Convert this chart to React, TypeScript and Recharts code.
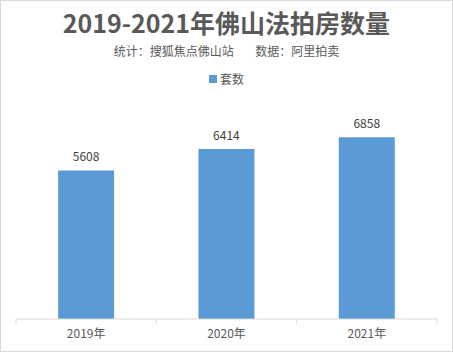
import { BarChart, Bar, XAxis, YAxis, Legend, LabelList } from "recharts";

const years = ["2019年", "2020年", "2021年"];
const counts = [5608, 6414, 6858];
const seriesName = "套数";

const data = years.map((year, i) => ({ year, count: counts[i] }));

const FONT = '"Noto Sans CJK SC", "Microsoft YaHei", sans-serif';
const GREY = "#595959";
const BLUE = "#5B9BD5";

type TickProps = {
  x?: number;
  y?: number;
  payload?: { value: string; offset?: number };
  index?: number;
  visibleTicksCount?: number;
};

function YearTick({ x = 0, y = 0, payload, index = 0, visibleTicksCount = 0 }: TickProps) {
  const half = payload?.offset ?? 0;
  const top = y - 8;
  return (
    <g>
      <line x1={x - half} x2={x - half} y1={top} y2={top + 5} stroke="#d9d9d9" />
      {index === visibleTicksCount - 1 && (
        <line x1={x + half} x2={x + half} y1={top} y2={top + 5} stroke="#d9d9d9" />
      )}
      <text x={x} y={y + 11} textAnchor="middle" fontSize={12} fill={GREY} fontFamily={FONT}>
        {payload?.value}
      </text>
    </g>
  );
}

function LegendBox() {
  return (
    <div
      style={{
        display: "flex",
        justifyContent: "center",
        alignItems: "center",
        fontFamily: FONT,
        fontSize: 12,
        color: GREY,
      }}
    >
      <span style={{ width: 8, height: 8, background: BLUE, marginRight: 3 }} />
      {seriesName}
    </div>
  );
}

export default function App() {
  return (
    <div style={{ position: "absolute", left: 0, top: 0, width: 453, height: 352, background: "#fff" }}>
      <div
        style={{
          position: "absolute",
          top: 8,
          width: 453,
          textAlign: "center",
          fontFamily: FONT,
          fontWeight: 700,
          fontSize: 25,
          lineHeight: "28px",
          color: GREY,
        }}
      >
        2019-2021年佛山法拍房数量
      </div>
      <div
        style={{
          position: "absolute",
          top: 43,
          width: 453,
          textAlign: "center",
          fontFamily: FONT,
          fontSize: 12,
          lineHeight: "16px",
          color: GREY,
          whiteSpace: "pre",
        }}
      >
        {"统计：搜狐焦点佛山站        数据：阿里拍卖"}
      </div>
      <BarChart
        width={453}
        height={352}
        data={data}
        margin={{ top: 87, right: 16, bottom: 0, left: 16 }}
        barCategoryGap="30%"
      >
        <Legend
          verticalAlign="top"
          height={20}
          content={<LegendBox />}
          wrapperStyle={{ top: 70 }}
        />
        <XAxis
          dataKey="year"
          height={33}
          axisLine={{ stroke: "#d9d9d9" }}
          tickLine={false}
          interval={0}
          tick={<YearTick />}
        />
        <YAxis hide domain={[0, 8000]} />
        <Bar dataKey="count" name={seriesName} fill={BLUE} isAnimationActive={false}>
          <LabelList
            dataKey="count"
            position="top"
            offset={9}
            fontSize={12}
            fill="#404040"
            fontFamily={FONT}
          />
        </Bar>
      </BarChart>
      <div
        style={{
          position: "absolute",
          left: 0,
          top: 0,
          width: 453,
          height: 352,
          boxSizing: "border-box",
          border: "1px solid #d9d9d9",
          pointerEvents: "none",
        }}
      />
    </div>
  );
}
